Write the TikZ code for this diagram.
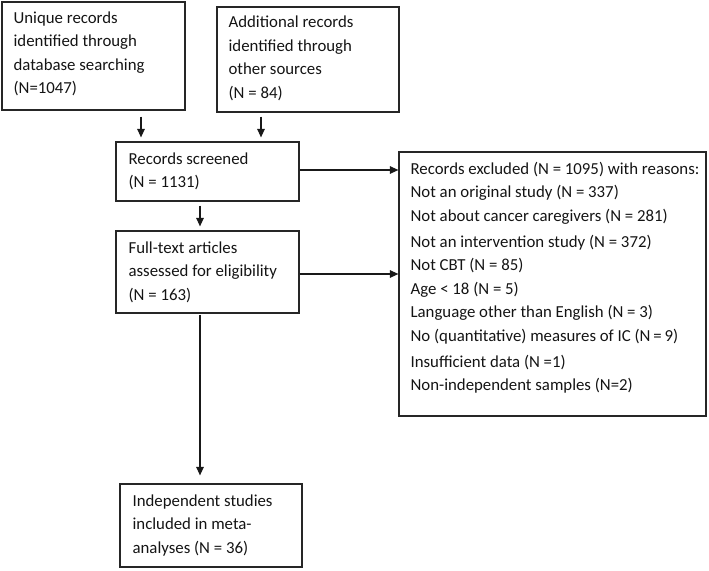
\documentclass[tikz,border=0pt]{standalone}
\usepackage{fontspec}
\setmainfont{Carlito}
\usetikzlibrary{arrows.meta,calc}
\tikzset{
  box/.style={draw=black!85, line width=1.2pt, rectangle, inner sep=0pt},
  txt/.style={anchor=west, align=left, inner sep=0pt, text=black!92,
    font=\fontsize{16.8}{23.5}\selectfont},
  arr/.style={draw=black!90, line width=1.2pt, -{Triangle[length=8.5pt,width=7.5pt]}}
}
\begin{document}
\begin{tikzpicture}[x=1pt,y=-1pt]
\useasboundingbox (0,0) rectangle (709,570);
% boxes
\node[box, minimum width=183pt, minimum height=108pt] (A) at (93.5,56) {};
\node[box, minimum width=182pt, minimum height=105pt] (B) at (308,59.5) {};
\node[box, minimum width=183pt, minimum height=59pt] (C) at (207.5,171.5) {};
\node[box, minimum width=183pt, minimum height=82pt] (D) at (207.5,272) {};
\node[box, minimum width=182pt, minimum height=83pt] (E) at (211,525.5) {};
\node[box, minimum width=307pt, minimum height=264pt] (F) at (552.5,284) {};
% texts
\node[txt] (At) at ($(A.west)+(12,-2)$) {Unique records\\identified through\\database searching\\(N=1047)};
\node[txt] (Bt) at ($(B.west)+(12,-1)$) {Additional records\\identified through\\other sources\\(N = 84)};
\node[txt] (Ct) at ($(C.west)+(13,0)$) {Records screened\\(N = 1131)};
\node[txt] (Dt) at ($(D.west)+(13,0)$) {Full-text articles\\assessed for eligibility\\(N = 163)};
\node[txt] (Et) at ($(E.west)+(13,0)$) {Independent studies\\included in meta-\\analyses (N = 36)};
\node[txt] (Ft) at ($(F.west)+(12,-6.5)$) {Records excluded (N = 1095) with reasons:\\
Not an original study (N = 337)\\
Not about cancer caregivers (N = 281)\\[2.5pt]
Not an intervention study (N = 372)\\
Not CBT (N = 85)\\
Age < 18 (N = 5)\\
Language other than English (N = 3)\\
No (quantitative) measures of IC (N\,=\,9)\\[2.5pt]
Insufficient data (N =1)\\
Non-independent samples (N=2)};
% connectors
\draw[arr] ($(A.south)+(47.5,6)$) -- ($(A.south |- C.north)+(47.5,-4)$);
\draw[arr] ($(B.south)+(-47,4)$) -- ($(B.south |- C.north)+(-47,-4)$);
\draw[arr] ($(C.south)+(-7.5,4)$) -- ($(C.south |- D.north)+(-7.5,-4)$);
\draw[arr] ($(C.east)+(0,-1.5)$) -- ($(C.east -| F.west)+(0,-1.5)$);
\draw[arr] ($(D.east)+(0,2)$) -- ($(D.east -| F.west)+(0,2)$);
\draw[arr] ($(D.south)+(-7.5,1)$) -- ($(D.south |- E.north)+(-7.5,-8)$);
\end{tikzpicture}
\end{document}
